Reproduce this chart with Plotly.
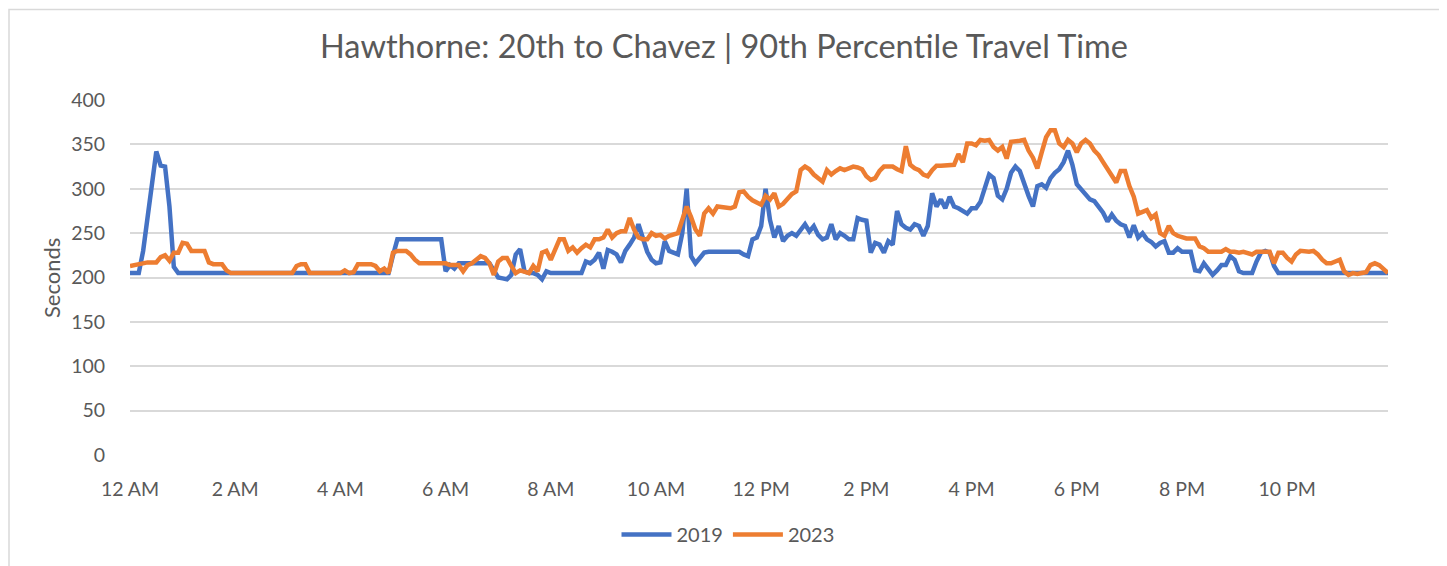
import plotly.graph_objects as go

# 5-minute intervals over the day
times = [f"{h:02d}:{m:02d}" for h in range(24) for m in range(0, 60, 5)]
tick_times = ["00:00", "02:00", "04:00", "06:00", "08:00", "10:00",
              "12:00", "14:00", "16:00", "18:00", "20:00", "22:00"]
tick_labels = ["12 AM", "2 AM", "4 AM", "6 AM", "8 AM", "10 AM",
               "12 PM", "2 PM", "4 PM", "6 PM", "8 PM", "10 PM"]
y_ticks = [0, 50, 100, 150, 200, 250, 300, 350, 400]

tt_2019 = [
    205, 205, 205, 230, 270, 312, 342, 326, 325, 280, 212, 205, 205, 205, 205, 205, 205, 205, 205, 205, 205, 205, 205, 205,
    205, 205, 205, 205, 205, 205, 205, 205, 205, 205, 205, 205, 205, 205, 205, 205, 205, 205, 205, 205, 205, 205, 205, 205,
    205, 205, 205, 205, 205, 205, 205, 205, 205, 205, 205, 205, 225, 243, 243, 243, 243, 243, 243, 243, 243, 243, 243, 243,
    207, 214, 210, 216, 216, 216, 216, 216, 216, 216, 216, 208, 200, 199, 198, 203, 226, 232, 207, 205, 205, 203, 198, 207,
    205, 205, 205, 205, 205, 205, 205, 205, 218, 216, 220, 228, 210, 231, 229, 226, 217, 230, 237, 245, 260, 243, 229, 220,
    216, 217, 241, 230, 228, 226, 250, 300, 224, 216, 222, 228, 229, 229, 229, 229, 229, 229, 229, 229, 226, 224, 243, 245,
    258, 300, 265, 245, 258, 241, 247, 250, 247, 254, 260, 252, 258, 248, 243, 245, 260, 243, 250, 247, 243, 243, 267, 265,
    264, 228, 239, 237, 228, 241, 237, 275, 260, 256, 254, 260, 258, 247, 258, 295, 280, 288, 278, 291, 280, 278, 275, 272,
    278, 278, 285, 299, 316, 312, 292, 288, 300, 318, 325, 320, 305, 292, 280, 303, 305, 301, 312, 318, 322, 330, 343, 327,
    305, 299, 294, 288, 286, 279, 273, 263, 271, 264, 260, 258, 245, 259, 245, 250, 243, 240, 235, 239, 241, 228, 228, 233,
    229, 229, 229, 208, 207, 216, 210, 203, 208, 214, 214, 224, 220, 207, 205, 205, 205, 218, 228, 230, 228, 213, 205, 205,
    205, 205, 205, 205, 205, 205, 205, 205, 205, 205, 205, 205, 205, 205, 205, 205, 205, 205, 205, 205, 205, 205, 205, 205,
]

tt_2023 = [
    213, 214, 216, 217, 217, 217, 217, 223, 225, 219, 228, 228, 239, 238, 230, 230, 230, 230, 217, 215, 215, 215, 208, 205,
    205, 205, 205, 205, 205, 205, 205, 205, 205, 205, 205, 205, 205, 205, 213, 215, 215, 205, 205, 205, 205, 205, 205, 205,
    205, 208, 205, 206, 215, 215, 215, 215, 213, 207, 210, 205, 228, 230, 230, 230, 226, 220, 216, 216, 216, 216, 216, 216,
    216, 214, 214, 214, 207, 214, 216, 220, 224, 222, 216, 203, 218, 222, 222, 213, 205, 208, 206, 205, 213, 207, 228, 230,
    220, 231, 243, 243, 230, 234, 228, 233, 237, 234, 243, 243, 245, 254, 245, 250, 252, 252, 267, 254, 245, 243, 243, 250,
    247, 248, 244, 247, 248, 250, 265, 280, 268, 254, 247, 272, 278, 272, 280, 279, 278, 278, 280, 296, 297, 291, 287, 284,
    282, 292, 288, 295, 280, 283, 288, 294, 297, 321, 325, 322, 316, 312, 308, 321, 316, 320, 323, 321, 323, 325, 324, 322,
    314, 310, 312, 320, 325, 325, 325, 322, 320, 348, 327, 323, 321, 316, 314, 321, 326, 326, 326, 326, 327, 339, 330, 351,
    351, 349, 355, 354, 355, 347, 343, 347, 334, 353, 353, 354, 355, 343, 335, 323, 341, 358, 366, 366, 351, 347, 355, 351,
    341, 351, 355, 351, 343, 338, 330, 323, 314, 307, 320, 320, 303, 291, 272, 274, 276, 267, 271, 250, 247, 258, 250, 247,
    245, 244, 244, 244, 235, 233, 229, 229, 229, 229, 232, 229, 229, 228, 229, 228, 226, 229, 229, 229, 229, 216, 228, 228,
    222, 218, 226, 230, 229, 229, 230, 226, 220, 216, 216, 218, 220, 207, 203, 205, 204, 205, 206, 214, 216, 214, 210, 205,
]

assert len(times) == 288 and len(tt_2019) == 288 and len(tt_2023) == 288

FONT = "Lato"
TXT = "#595959"
GRID = "#d9d9d9"

# page is rendered with the browser's default 8px body margin
OFF = 8
PAGE_W, PAGE_H = 1447, 566
W, H = PAGE_W - OFF, PAGE_H - OFF
# plot area in page pixels: x 130..1388, y 100..457
L = 130 - OFF
T = 100 - OFF
R = W - (1388 - OFF)
B = H - (457 - OFF)
pw, ph = W - L - R, H - T - B

def px_to_paper_x(px):
    return (px - OFF - L) / pw

def px_to_paper_y(py):
    return (H - B - (py - OFF)) / ph

fig = go.Figure()
fig.add_trace(go.Scatter(x=times, y=tt_2019, mode="lines", name="2019",
                         line=dict(color="#4472C4", width=4.5)))
fig.add_trace(go.Scatter(x=times, y=tt_2023, mode="lines", name="2023",
                         line=dict(color="#ED7D31", width=4.5)))

fig.update_layout(
    width=W, height=H,
    margin=dict(l=L, r=R, t=T, b=B),
    paper_bgcolor="white", plot_bgcolor="white",
    font=dict(family=FONT, color=TXT, size=19),
    title=dict(text="Hawthorne: 20th to Chavez | 90th Percentile Travel Time",
               x=(724 - OFF) / W, xref="container", xanchor="center",
               y=1 - (47 - OFF) / H, yref="container", yanchor="middle",
               font=dict(family=FONT, size=32.5, color=TXT)),
    showlegend=True,
    legend=dict(orientation="h", x=px_to_paper_x(728), xanchor="center",
                y=px_to_paper_y(537), yanchor="middle",
                font=dict(family=FONT, size=20, color=TXT),
                itemwidth=50, tracegroupgap=0),
    xaxis=dict(type="category", categoryorder="array", categoryarray=times,
               range=[0, 287], tickmode="array", tickvals=tick_times, ticktext=tick_labels,
               showgrid=False, zeroline=False, showline=False,
               ticks="outside", ticklen=17, tickcolor="rgba(0,0,0,0)",
               tickfont=dict(family=FONT, size=19.5, color=TXT)),
    yaxis=dict(range=[0, 400], tickmode="array", tickvals=y_ticks,
               showgrid=True, gridcolor=GRID, gridwidth=1.5,
               zeroline=False, showline=False,
               ticks="outside", ticklen=20, tickcolor="rgba(0,0,0,0)",
               tickfont=dict(family=FONT, size=19.5, color=TXT)),
    annotations=[dict(text="Seconds", textangle=-90, showarrow=False,
                      xref="paper", yref="paper",
                      x=px_to_paper_x(52), y=px_to_paper_y(279), xanchor="center", yanchor="middle",
                      font=dict(family=FONT, size=22, color=TXT))],
    shapes=[dict(type="rect", xref="paper", yref="paper",
                 x0=px_to_paper_x(9), x1=px_to_paper_x(1443),
                 y0=px_to_paper_y(575), y1=px_to_paper_y(9),
                 line=dict(color=GRID, width=1.5), fillcolor="rgba(0,0,0,0)", layer="below")],
)

fig.write_html("out.html")
